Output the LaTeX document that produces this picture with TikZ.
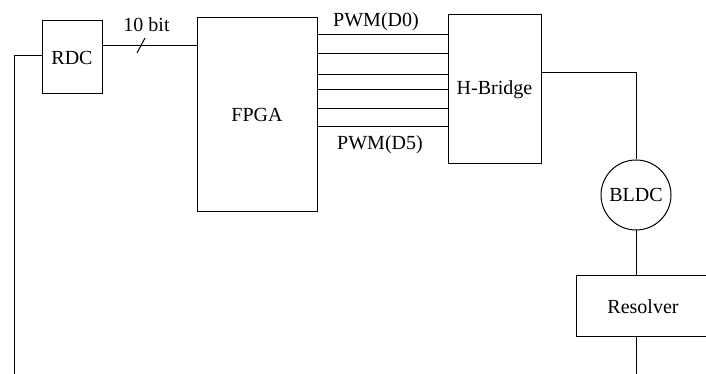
\documentclass[tikz,border=0pt]{standalone}
\usepackage{fontspec}
\setmainfont{Liberation Serif}
\begin{document}
\begin{tikzpicture}[x=1pt,y=1pt,line width=1pt,
  box/.style={draw,rectangle,inner sep=0pt,font=\fontsize{20}{24}\selectfont},
  lbl/.style={inner sep=0pt,font=\fontsize{20}{24}\selectfont},
  wire/.style={draw,line width=1pt}]
\useasboundingbox (0,0) rectangle (706,374);
\node[box,minimum width=60,minimum height=73] (rdc) at (72,316.5) {RDC};
\node[box,minimum width=120,minimum height=194] (fpga) at (257,259) {FPGA};
\node[box,minimum width=93,minimum height=149] (hb) at (494.5,284.5) {H-Bridge};
\node[box,circle,minimum size=70] (bldc) at (636,179) {BLDC};
\node[box,minimum width=134,minimum height=61] (res) at (643,67.5) {Resolver};
\coordinate (lb) at (14,0);
\coordinate (rb) at (637,0);
\coordinate (s1) at (137,321);
\coordinate (s2) at (145,336);
\node[lbl] (l10) at (146.5,349) {10 bit};
\node[lbl] (ld0) at (376,352) {PWM(D0)};
\node[lbl] (ld5) at (380,229) {PWM(D5)};
% connectors
\draw ([yshift=1.5]rdc.west) -| (lb);
\draw ([yshift=11.5]rdc.east) -- ([yshift=11.5]rdc.east -| fpga.west);
\draw (s1) -- (s2);
\foreach \yy in {339,320,299,284,265,247}{
  \draw (fpga.east |- 0,\yy) -- (hb.west |- 0,\yy);
}
\draw (hb.east |- 0,301) -| (bldc.north);
\draw (bldc.south) -- (bldc.south |- res.north);
\draw (bldc.south |- res.south) -- (bldc.south |- rb);
\end{tikzpicture}
\end{document}
